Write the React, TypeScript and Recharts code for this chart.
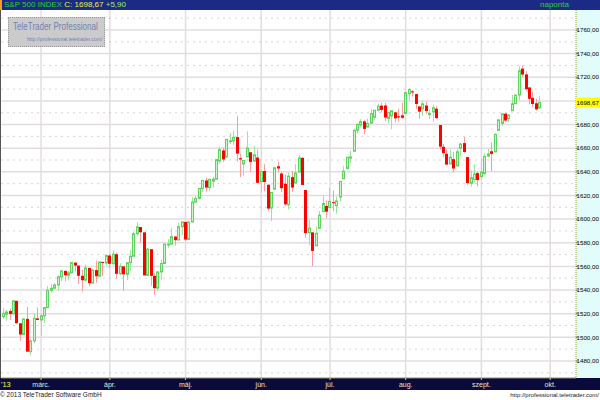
import { ComposedChart, Bar, XAxis, YAxis, CartesianGrid } from 'recharts';

// trading days shown on the axis (the last ones are still empty)
const dates = [
  '02-13', '02-14', '02-15', '02-19', '02-20', '02-21', '02-22', '02-25', '02-26', '02-27', '02-28',
  '03-01', '03-04', '03-05', '03-06', '03-07', '03-08', '03-11', '03-12', '03-13', '03-14',
  '03-15', '03-18', '03-19', '03-20', '03-21', '03-22', '03-25', '03-26', '03-27', '03-28',
  '04-01', '04-02', '04-03', '04-04', '04-05', '04-08', '04-09', '04-10', '04-11', '04-12', '04-15',
  '04-16', '04-17', '04-18', '04-19', '04-22', '04-23', '04-24', '04-25', '04-26', '04-29', '04-30',
  '05-01', '05-02', '05-03', '05-06', '05-07', '05-08', '05-09', '05-10', '05-13', '05-14', '05-15',
  '05-16', '05-17', '05-20', '05-21', '05-22', '05-23', '05-24', '05-28', '05-29', '05-30', '05-31',
  '06-03', '06-04', '06-05', '06-06', '06-07', '06-10', '06-11', '06-12', '06-13', '06-14',
  '06-17', '06-18', '06-19', '06-20', '06-21', '06-24', '06-25', '06-26', '06-27', '06-28',
  '07-01', '07-02', '07-03', '07-05', '07-08', '07-09', '07-10', '07-11', '07-12', '07-15', '07-16',
  '07-17', '07-18', '07-19', '07-22', '07-23', '07-24', '07-25', '07-26', '07-29', '07-30', '07-31',
  '08-01', '08-02', '08-05', '08-06', '08-07', '08-08', '08-09', '08-12', '08-13', '08-14', '08-15',
  '08-16', '08-19', '08-20', '08-21', '08-22', '08-23', '08-26', '08-27', '08-28', '08-29', '08-30',
  '09-03', '09-04', '09-05', '09-06', '09-09', '09-10', '09-11', '09-12', '09-13', '09-16',
  '09-17', '09-18', '09-19', '09-20', '09-23', '09-24', '09-25', '09-26', '09-27', '09-30',
  '10-01', '10-02', '10-03', '10-04', '10-07', '10-08', '10-09', '10-10',
];

const opens = [
  1517.4, 1519.5, 1522.3, 1519.8, 1530.9, 1511.9, 1502.4, 1515.6, 1487.9, 1497.0, 1516.0,
  1514.7, 1518.2, 1525.2, 1539.8, 1541.5, 1544.3, 1551.2, 1556.2, 1552.5, 1554.5,
  1563.2, 1560.7, 1552.1, 1548.3, 1558.7, 1545.9, 1556.9, 1551.7, 1563.8, 1562.9,
  1569.2, 1562.2, 1570.3, 1553.7, 1560.0, 1553.3, 1563.1, 1568.6, 1587.7, 1593.3, 1588.8,
  1552.4, 1574.6, 1552.0, 1541.6, 1555.3, 1562.5, 1578.8, 1578.9, 1585.2, 1582.3, 1593.6,
  1597.6, 1582.8, 1597.6, 1614.4, 1617.6, 1625.9, 1632.7, 1626.7, 1632.1, 1633.8, 1649.1,
  1658.1, 1652.5, 1665.7, 1666.2, 1669.4, 1651.6, 1646.7, 1652.6, 1656.6, 1649.1, 1652.1,
  1631.7, 1640.7, 1629.1, 1609.4, 1625.3, 1644.7, 1638.6, 1629.9, 1612.2, 1635.5,
  1630.6, 1639.8, 1651.8, 1624.6, 1588.6, 1588.8, 1577.5, 1592.3, 1606.4, 1611.1,
  1609.8, 1614.3, 1611.5, 1618.7, 1634.2, 1642.9, 1651.6, 1657.4, 1675.3, 1679.6, 1682.7,
  1677.9, 1681.1, 1686.2, 1692.1, 1696.0, 1696.1, 1685.2, 1687.3, 1690.3, 1687.0, 1687.8,
  1689.4, 1706.1, 1708.0, 1705.8, 1695.3, 1693.4, 1696.1, 1688.4, 1690.7, 1693.4, 1679.6,
  1661.2, 1655.3, 1646.8, 1650.7, 1645.0, 1659.9, 1664.3, 1652.5, 1630.3, 1633.5, 1638.9,
  1635.9, 1638.7, 1653.3, 1657.4, 1656.9, 1675.1, 1681.0, 1689.2, 1685.0, 1691.7,
  1697.7, 1705.0, 1727.3, 1722.4, 1711.4, 1702.6, 1698.0, 1694.1,
];

const highs = [
  1524.7, 1523.1, 1524.3, 1530.9, 1530.9, 1511.9, 1515.6, 1525.8, 1498.5, 1520.1, 1525.3,
  1520.0, 1525.3, 1543.5, 1545.3, 1545.8, 1552.5, 1556.3, 1556.8, 1556.4, 1563.3,
  1563.6, 1560.7, 1557.3, 1561.6, 1558.7, 1557.7, 1564.9, 1563.9, 1563.8, 1570.3,
  1570.6, 1573.7, 1571.5, 1562.6, 1560.0, 1563.1, 1573.9, 1589.1, 1597.4, 1593.3, 1588.8,
  1575.4, 1574.6, 1554.4, 1555.9, 1565.6, 1579.6, 1583.0, 1592.6, 1585.8, 1596.7, 1597.6,
  1597.6, 1598.6, 1618.5, 1619.8, 1626.0, 1632.8, 1635.0, 1633.7, 1636.0, 1651.1, 1661.5,
  1660.5, 1667.5, 1672.8, 1674.9, 1687.2, 1655.5, 1649.8, 1674.2, 1656.6, 1661.9, 1658.9,
  1640.4, 1646.5, 1629.3, 1622.6, 1644.4, 1648.7, 1640.1, 1637.7, 1639.3, 1640.8,
  1646.5, 1654.2, 1652.4, 1624.6, 1599.2, 1588.8, 1593.8, 1606.8, 1620.1, 1615.9,
  1626.6, 1624.3, 1619.0, 1632.1, 1644.7, 1652.4, 1657.9, 1676.6, 1680.2, 1684.5, 1683.7,
  1684.8, 1693.1, 1692.1, 1697.6, 1698.4, 1698.4, 1690.9, 1691.9, 1690.9, 1693.2, 1698.4,
  1707.9, 1709.7, 1709.2, 1705.8, 1695.3, 1700.2, 1699.4, 1693.0, 1696.8, 1695.5, 1679.6,
  1663.6, 1659.2, 1658.9, 1657.0, 1659.6, 1664.9, 1669.5, 1652.5, 1641.2, 1646.4, 1640.1,
  1651.4, 1655.7, 1659.2, 1664.8, 1672.4, 1684.1, 1689.1, 1690.0, 1688.7, 1705.0,
  1705.5, 1729.4, 1729.9, 1725.2, 1711.4, 1707.6, 1701.7, 1703.9,
];

const lows = [
  1515.6, 1514.0, 1514.6, 1519.8, 1511.4, 1497.3, 1502.4, 1487.9, 1485.0, 1494.9, 1514.5,
  1501.5, 1512.3, 1525.2, 1538.1, 1541.5, 1539.6, 1547.4, 1547.4, 1548.3, 1554.5,
  1555.7, 1545.1, 1538.6, 1548.3, 1543.5, 1545.9, 1546.2, 1551.7, 1551.7, 1561.1,
  1558.5, 1562.2, 1549.8, 1552.5, 1539.5, 1548.6, 1556.3, 1568.6, 1586.2, 1580.0, 1552.3,
  1552.4, 1543.7, 1536.0, 1539.4, 1548.2, 1562.5, 1575.8, 1578.9, 1577.6, 1582.3, 1586.5,
  1581.3, 1582.8, 1597.6, 1614.2, 1616.6, 1622.7, 1623.1, 1623.7, 1626.7, 1633.8, 1646.7,
  1648.6, 1652.5, 1663.5, 1662.7, 1648.9, 1635.5, 1636.9, 1652.6, 1640.1, 1648.6, 1630.7,
  1622.7, 1623.6, 1607.1, 1598.2, 1625.3, 1639.3, 1622.9, 1610.9, 1608.1, 1623.0,
  1630.3, 1639.8, 1628.9, 1584.3, 1577.7, 1560.3, 1577.1, 1592.3, 1606.4, 1601.1,
  1609.8, 1606.8, 1604.6, 1614.7, 1634.2, 1642.9, 1647.7, 1657.4, 1672.3, 1677.9, 1671.8,
  1677.9, 1681.1, 1684.1, 1692.1, 1690.1, 1682.6, 1680.9, 1676.0, 1681.9, 1682.4, 1684.9,
  1689.4, 1700.7, 1703.6, 1693.3, 1684.9, 1687.4, 1689.0, 1684.6, 1682.6, 1684.8, 1658.6,
  1652.6, 1646.1, 1646.1, 1639.4, 1645.0, 1653.4, 1656.0, 1629.1, 1627.5, 1630.9, 1627.5,
  1633.4, 1637.4, 1653.1, 1640.6, 1656.9, 1675.1, 1678.7, 1682.0, 1682.2, 1691.7,
  1697.7, 1700.4, 1720.2, 1708.9, 1697.1, 1694.9, 1691.9, 1693.1,
];

const closes = [
  1520.3, 1521.4, 1519.8, 1530.9, 1512.0, 1502.4, 1515.6, 1487.9, 1496.9, 1516.0, 1514.7,
  1518.2, 1525.2, 1539.8, 1541.5, 1544.3, 1551.2, 1556.2, 1552.5, 1554.5, 1563.2,
  1560.7, 1552.1, 1548.3, 1558.7, 1545.8, 1556.9, 1551.7, 1563.8, 1562.9, 1569.2,
  1562.2, 1570.3, 1553.7, 1560.0, 1553.3, 1563.1, 1568.6, 1587.7, 1593.4, 1588.9, 1552.4,
  1574.6, 1552.0, 1541.6, 1555.3, 1562.5, 1578.8, 1578.9, 1585.2, 1582.2, 1593.6, 1597.6,
  1582.7, 1597.6, 1614.4, 1617.5, 1626.0, 1632.7, 1626.7, 1633.7, 1633.8, 1650.3, 1658.8,
  1650.5, 1667.5, 1666.3, 1669.2, 1655.4, 1650.5, 1649.6, 1660.1, 1648.4, 1654.4, 1630.7,
  1640.4, 1631.4, 1608.9, 1622.6, 1643.4, 1642.8, 1626.1, 1612.5, 1636.4, 1626.7,
  1639.0, 1651.8, 1628.9, 1588.2, 1592.4, 1573.1, 1588.0, 1603.3, 1613.2, 1606.3,
  1615.0, 1614.1, 1615.4, 1631.9, 1640.5, 1652.3, 1652.6, 1675.0, 1680.2, 1682.5, 1676.3,
  1680.9, 1689.4, 1692.1, 1695.5, 1692.4, 1685.9, 1690.3, 1691.7, 1685.3, 1686.0, 1685.7,
  1706.9, 1709.7, 1707.1, 1697.4, 1690.9, 1697.5, 1691.4, 1689.5, 1694.2, 1685.4, 1661.3,
  1655.8, 1646.1, 1652.4, 1642.8, 1657.0, 1663.5, 1656.8, 1630.5, 1635.0, 1638.2, 1633.0,
  1639.8, 1653.1, 1655.1, 1655.2, 1671.7, 1684.0, 1689.1, 1683.4, 1688.0, 1697.6,
  1704.8, 1725.5, 1722.3, 1709.9, 1701.8, 1697.4, 1692.8, 1698.67,
];

const priceTicks = [1480, 1500, 1520, 1540, 1560, 1580, 1600, 1620, 1640, 1660, 1680, 1700, 1720, 1740, 1760];
const dottedLevels = [1470, 1490, 1510, 1530, 1550, 1570, 1590, 1610, 1630, 1650, 1670, 1690, 1710, 1730, 1750, 1770];
const lastClose = 1698.67;
const monthTicks = ['03-01', '04-01', '05-01', '06-03', '07-01', '08-01', '09-03', '10-01'];
const monthLabels = ['márc.', 'ápr.', 'máj.', 'jún.', 'júl.', 'aug.', 'szept.', 'okt.'];

const data = dates.map((d, i) => ({
  date: d,
  open: opens[i],
  high: highs[i],
  low: lows[i],
  close: closes[i],
  range: i < closes.length ? [lows[i], highs[i]] : undefined,
}));

const fmt = (v: number) => v.toFixed(2).replace('.', ',');

function Candle(props: any) {
  const { x, y, width, height, payload } = props;
  if (!payload || payload.close == null || height == null) return null;
  const { open, close, high, low } = payload;
  const top = Math.min(y, y + height);
  const h = Math.abs(height);
  const k = h / (high - low);
  const cx = Math.floor(x + width / 2);
  const up = close >= open;
  const bTop = top + (high - Math.max(open, close)) * k;
  const bH = Math.max(1, Math.abs(close - open) * k);
  return (
    <g>
      <line x1={cx + 0.5} x2={cx + 0.5} y1={top} y2={top + h} stroke={up ? '#99e699' : '#ff9a9a'} strokeWidth={1} />
      {up ? (
        <rect x={cx - 0.5} y={bTop} width={2} height={bH} fill="#ccf5cc" stroke="#5fd35f" strokeWidth={1} />
      ) : (
        <rect x={cx - 1} y={bTop} width={3} height={bH} fill="#ff0000" />
      )}
    </g>
  );
}

function PriceTick(props: any) {
  const { x, y, payload } = props;
  const v = payload.value;
  const label = (
    <text x={x - 1.5} y={y} dy="0.35em" fontSize={6.2} fontFamily="Liberation Sans, Arial" fill="#000">
      {fmt(v)}
    </text>
  );
  if (v === lastClose) {
    return (
      <g>
        <rect x={x - 2} y={y - 5} width={24} height={10} fill="#ffff00" />
        {label}
      </g>
    );
  }
  if (v === 1700) return null;
  return label;
}

function MonthTick(props: any) {
  const { x, y, payload } = props;
  if (payload.value === dates[0]) {
    return (
      <text x={1} y={y + 8.5} fontSize={7.5} fontFamily="Liberation Sans, Arial" fill="#ffff33">'13</text>
    );
  }
  const label = monthLabels[monthTicks.indexOf(payload.value)];
  return (
    <g>
      <line x1={x} x2={x} y1={y} y2={y + 2} stroke="#d8d860" />
      <text x={x} y={y + 8.5} textAnchor="middle" fontSize={7} fontFamily="Liberation Sans, Arial" fill="#e6e6cc">{label}</text>
    </g>
  );
}

export default function App() {
  return (
    <div style={{ position: 'absolute', left: 0, top: 0, width: 600, height: 400, background: '#fff', overflow: 'hidden', fontFamily: 'Liberation Sans, Arial, sans-serif' }}>
      {/* right price axis background */}
      <div style={{ position: 'absolute', left: 576, top: 10, width: 24, height: 368, background: '#e2fcfc' }} />
      {/* bottom time axis band */}
      <div style={{ position: 'absolute', left: 0, top: 378, width: 600, height: 12, background: '#0a0a3c' }} />
      {/* left frame */}
      <div style={{ position: 'absolute', left: 0, top: 10, width: 1, height: 368, background: '#555' }} />

      <div style={{ position: 'absolute', left: 0, top: 0 }}>
        <ComposedChart
          width={600}
          height={390}
          data={data}
          margin={{ top: 10, right: 0, bottom: 0, left: 1.5 }}
          barCategoryGap="20%"
        >
          <CartesianGrid stroke="#e2dce2" strokeWidth={1.5} horizontalValues={priceTicks} verticalValues={monthTicks} />
          <CartesianGrid stroke="#a9a9a9" strokeDasharray="1 5" vertical={false} horizontalValues={dottedLevels} />
          <XAxis
            dataKey="date"
            ticks={[dates[0], ...monthTicks]}
            interval={0}
            tick={<MonthTick />}
            tickLine={false}
            tickSize={0}
            tickMargin={0}
            height={12}
            axisLine={{ stroke: '#8c8c64' }}
          />
          <YAxis
            orientation="right"
            type="number"
            width={24}
            domain={[1465.6, 1776.9]}
            allowDataOverflow
            ticks={[...priceTicks, lastClose]}
            interval={0}
            tick={<PriceTick />}
            tickSize={2}
            tickMargin={0}
            tickLine={{ stroke: '#777744' }}
            axisLine={{ stroke: '#a0a040', strokeDasharray: '1 1' }}
          />
          <Bar dataKey="range" shape={<Candle />} isAnimationActive={false} />
        </ComposedChart>
      </div>

      {/* header */}
      <div style={{ position: 'absolute', left: 0, top: 0, width: 600, height: 10, background: '#1b2a84', borderLeft: '2px solid #f0a020', boxSizing: 'border-box', fontSize: 8, lineHeight: '10px', whiteSpace: 'nowrap' }}>
        <span style={{ position: 'absolute', left: 2, top: 0, color: '#22d822' }}>S&amp;P 500 INDEX <span style={{ color: '#f0f040' }}>C: 1698,67</span> <span style={{ color: '#a0f060' }}>+5,90</span></span>
        <span style={{ position: 'absolute', left: 538, top: 0, color: '#22d822' }}>naponta</span>
      </div>

      {/* watermark */}
      <div style={{ position: 'absolute', left: 8, top: 17, width: 97, height: 30, background: '#cbcbcb', border: '1px dotted #9a9a9a', boxSizing: 'border-box' }}>
        <div style={{ position: 'absolute', left: 4, top: 2, width: 130, fontSize: 11.5, color: '#7480b4', whiteSpace: 'nowrap', transform: 'scaleX(0.7)', transformOrigin: 'left top' }}>TeleTrader Professional</div>
        <div style={{ position: 'absolute', left: 18, top: 18, width: 100, fontSize: 6, color: '#7480b4', whiteSpace: 'nowrap', transform: 'scaleX(0.85)', transformOrigin: 'left top' }}>http://professional.teletrader.com/</div>
      </div>

      {/* footer */}
      <div style={{ position: 'absolute', left: 0, top: 390, fontSize: 6.5, lineHeight: '10px', color: '#222', whiteSpace: 'nowrap' }}>© 2013 TeleTrader Software GmbH</div>
      <div style={{ position: 'absolute', right: 1, top: 390, fontSize: 6, lineHeight: '10px', color: '#222', whiteSpace: 'nowrap' }}>http://professional.teletrader.com/</div>
    </div>
  );
}
